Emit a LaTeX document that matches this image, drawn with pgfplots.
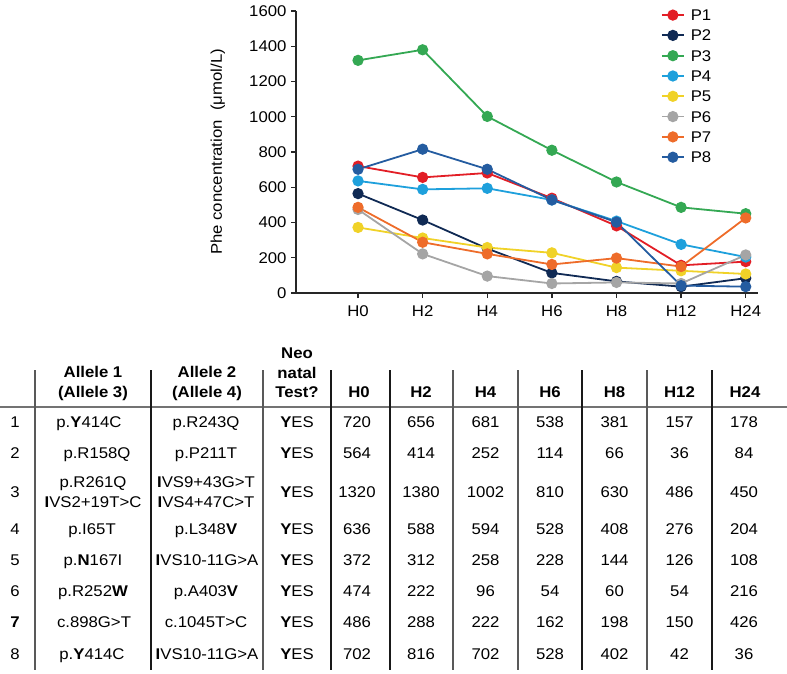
\documentclass[border=0pt]{standalone}
\usepackage{pgfplots}
\pgfplotsset{compat=1.18}
\usepackage{fontspec}
\setmainfont{Liberation Sans}[FakeStretch=1.08]

\definecolor{c1}{RGB}{226,30,38}
\definecolor{c2}{RGB}{16,42,84}
\definecolor{c3}{RGB}{52,168,83}
\definecolor{c4}{RGB}{30,160,220}
\definecolor{c5}{RGB}{240,210,40}
\definecolor{c6}{RGB}{165,165,165}
\definecolor{c7}{RGB}{238,108,42}
\definecolor{c8}{RGB}{36,92,160}

\newcommand\fs{\fontsize{15.5}{18}\selectfont}

\begin{document}
\begin{tikzpicture}
\path[use as bounding box] (0pt,0pt) rectangle (787pt,-673pt);

\begin{axis}[
  at={(296pt,-293pt)}, anchor=south west,
  scale only axis, width=462pt, height=282pt,
  xmin=-0.96, xmax=6.19, ymin=0, ymax=1600,
  axis lines=left,
  axis line style={-, line width=1.6pt, black!85},
  xtick={0,...,6},
  xticklabels={H0,H2,H4,H6,H8,H12,H24},
  ytick={0,200,...,1600},
  tick align=outside, major tick length=5pt,
  tick style={line width=1.3pt, black!85},
  ticklabel style={font=\fs},
  /pgf/number format/assume math mode=true,
  /pgf/number format/1000 sep={},
  xticklabel style={yshift=-4pt},
  yticklabel style={xshift=-1pt},
  ylabel={\fs Phe concentration\ \ (μmol/L)},
  ylabel style={at={(rel axis cs:-0.169,0.5)}, anchor=center},
  clip=false,
  every axis plot/.append style={line width=1.8pt, mark=*, mark size=4.7pt},
  legend style={draw=none, fill=none, at={(rel axis cs:0.79,1.005)}, anchor=north west,
    inner sep=0pt, outer sep=0pt, font=\fs,
    nodes={inner sep=0pt, text height=11pt, text depth=0pt},
    row sep=9.3pt,
    /tikz/every odd column/.append style={column sep=6pt}},
  legend cell align=left,
  legend image code/.code={\draw[mark repeat=2,mark phase=2,#1] plot coordinates {(0pt,0pt)(11pt,0pt)(22pt,0pt)};},
]
\addplot[color=c1] coordinates {(0,720) (1,656) (2,681) (3,538) (4,381) (5,157) (6,178)};
\addplot[color=c2] coordinates {(0,564) (1,414) (2,252) (3,114) (4,66) (5,36) (6,84)};
\addplot[color=c3] coordinates {(0,1320) (1,1380) (2,1002) (3,810) (4,630) (5,486) (6,450)};
\addplot[color=c4] coordinates {(0,636) (1,588) (2,594) (3,528) (4,408) (5,276) (6,204)};
\addplot[color=c5] coordinates {(0,372) (1,312) (2,258) (3,228) (4,144) (5,126) (6,108)};
\addplot[color=c6] coordinates {(0,474) (1,222) (2,96) (3,54) (4,60) (5,54) (6,216)};
\addplot[color=c7] coordinates {(0,486) (1,288) (2,222) (3,162) (4,198) (5,150) (6,426)};
\addplot[color=c8] coordinates {(0,702) (1,816) (2,702) (3,528) (4,402) (5,42) (6,36)};
\legend{P1,P2,P3,P4,P5,P6,P7,P8}
\end{axis}

% table below the chart
\begin{scope}[x=1pt, y=-1pt,
  every node/.style={inner sep=0pt, text height=11.5pt, text depth=0pt, anchor=center, font=\fs},
  hd/.style={font=\fs\bfseries}]
\draw[line width=1.6pt, black!55] (0,407) -- (787,407);
\foreach \x in {35,263,453,518,647}
  \draw[line width=1.3pt, black!65] (\x,370) -- (\x,670);
\foreach \x in {151,331,390,582,712}
  \draw[line width=1.5pt, black!90] (\x,370) -- (\x,670);

% header
\node[hd] at (93,372) {Allele 1};
\node[hd] at (93,392) {(Allele 3)};
\node[hd] at (207,372) {Allele 2};
\node[hd] at (207,392) {(Allele 4)};
\node[hd] at (297,353) {Neo};
\node[hd] at (297,373) {natal};
\node[hd] at (297,392) {Test?};
\foreach \h/\x in {H0/359,H2/421,H4/485.5,H6/550,H8/614.5,H12/679.5,H24/745}
  \node[hd] at (\x,392) {\h};

% rows
\node at (15,422) {1};
\node at (89,422) {p.\textbf{Y}414C};
\node at (206,422) {p.R243Q};
\node at (297,422) {\textbf{Y}ES};

\node at (15,453) {2};
\node at (97,453) {p.R158Q};
\node at (206,453) {p.P211T};
\node at (297,453) {\textbf{Y}ES};

\node at (15,492) {3};
\node at (93,482) {p.R261Q};
\node at (93,502) {\textbf{I}VS2+19T>C};
\node at (206,482) {\textbf{I}VS9+43G>T};
\node at (206,502) {\textbf{I}VS4+47C>T};
\node at (297,492) {\textbf{Y}ES};

\node at (15,529) {4};
\node at (92,529) {p.I65T};
\node at (206,529) {p.L348\textbf{V}};
\node at (297,529) {\textbf{Y}ES};

\node at (15,560) {5};
\node at (93,560) {p.\textbf{N}167I};
\node at (207,560) {\textbf{I}VS10-11G>A};
\node at (297,560) {\textbf{Y}ES};

\node at (15,591) {6};
\node at (93,591) {p.R252\textbf{W}};
\node at (206,591) {p.A403\textbf{V}};
\node at (297,591) {\textbf{Y}ES};

\node at (15,622) {\textbf{7}};
\node at (94,622) {c.898G>T};
\node at (206,622) {c.1045T>C};
\node at (297,622) {\textbf{Y}ES};

\node at (15,654) {8};
\node at (92,654) {p.\textbf{Y}414C};
\node at (207,654) {\textbf{I}VS10-11G>A};
\node at (297,654) {\textbf{Y}ES};

% measured values, one row per patient
\foreach \y/\a/\b/\c/\d/\e/\f/\g in {
  422/720/656/681/538/381/157/178,
  453/564/414/252/114/66/36/84,
  492/1320/1380/1002/810/630/486/450,
  529/636/588/594/528/408/276/204,
  560/372/312/258/228/144/126/108,
  591/474/222/96/54/60/54/216,
  622/486/288/222/162/198/150/426,
  654/702/816/702/528/402/42/36}{
  \node at (357,\y) {\a};
  \node at (421,\y) {\b};
  \node at (485.5,\y) {\c};
  \node at (550,\y) {\d};
  \node at (614.5,\y) {\e};
  \node at (679.5,\y) {\f};
  \node at (744,\y) {\g};
}
\end{scope}
\end{tikzpicture}
\end{document}
